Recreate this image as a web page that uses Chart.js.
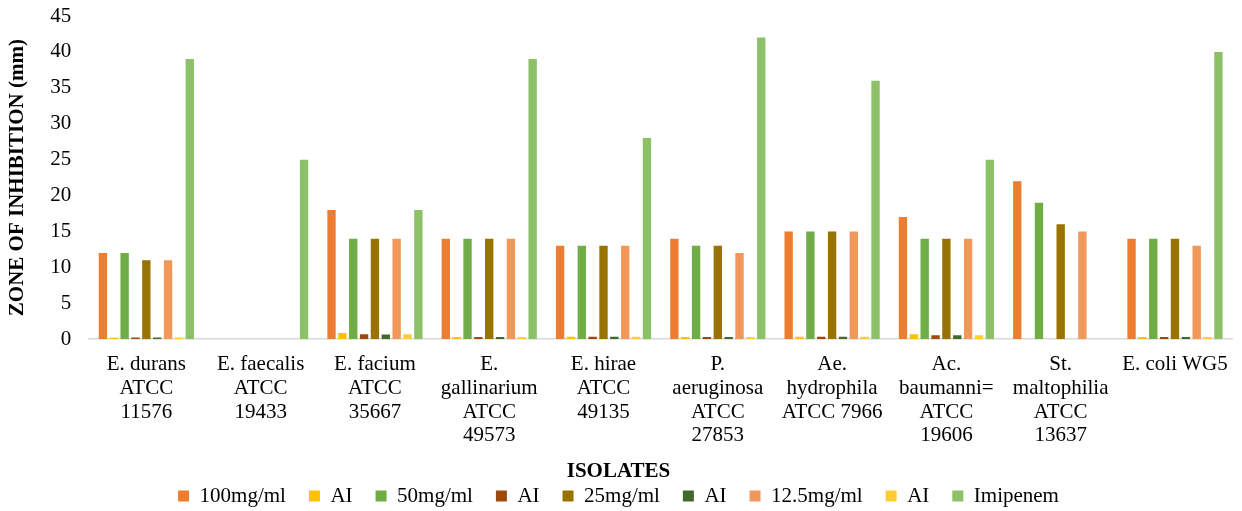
<!DOCTYPE html>
<html>
<head>
<meta charset="utf-8">
<script src="https://cdn.jsdelivr.net/npm/chart.js@4"></script>
<style>
  html, body { margin: 0; padding: 0; background: #fff; }
  #wrap { width: 1242px; height: 511px; }
</style>
</head>
<body>
<div id="wrap"><canvas id="chart" width="1242" height="511"></canvas></div>
<script>
// Categories
const isolates = [
  ["E. durans", "ATCC", "11576"],
  ["E. faecalis", "ATCC", "19433"],
  ["E. facium", "ATCC", "35667"],
  ["E.", "gallinarium", "ATCC", "49573"],
  ["E. hirae", "ATCC", "49135"],
  ["P.", "aeruginosa", "ATCC", "27853"],
  ["Ae.", "hydrophila", "ATCC 7966"],
  ["Ac.", "baumanni=", "ATCC", "19606"],
  ["St.", "maltophilia", "ATCC", "13637"],
  ["E. coli WG5"]
];

// Series values (zone of inhibition, mm)
const conc100 = [12, 0, 18, 14, 13, 14, 15, 17, 22, 14];
const ai100   = [0.2, 0, 0.85, 0.3, 0.35, 0.3, 0.35, 0.7, 0, 0.3];
const conc50  = [12, 0, 14, 14, 13, 13, 15, 14, 19, 14];
const ai50    = [0.25, 0, 0.7, 0.3, 0.35, 0.3, 0.35, 0.55, 0, 0.3];
const conc25  = [11, 0, 14, 14, 13, 13, 15, 14, 16, 14];
const ai25    = [0.25, 0, 0.65, 0.3, 0.35, 0.3, 0.35, 0.55, 0, 0.3];
const conc12  = [11, 0, 14, 14, 13, 12, 15, 14, 15, 13];
const ai12    = [0.25, 0, 0.7, 0.3, 0.35, 0.3, 0.35, 0.55, 0, 0.3];
const imipenem = [39, 25, 18, 39, 28, 42, 36, 25, 0, 40];

const yTicks = [0, 5, 10, 15, 20, 25, 30, 35, 40, 45];

const serif = "'Liberation Serif', 'Times New Roman', serif";

function series(label, data, color) {
  return {
    label: label,
    data: data,
    backgroundColor: color,
    borderWidth: 0,
    barPercentage: 0.77,
    categoryPercentage: 0.855
  };
}

const chart = new Chart(document.getElementById('chart'), {
  type: 'bar',
  data: {
    labels: isolates,
    datasets: [
      series('100mg/ml', conc100, '#ED7D31'),
      series('AI', ai100, '#FFC000'),
      series('50mg/ml', conc50, '#70AD47'),
      series('AI', ai50, '#9E480E'),
      series('25mg/ml', conc25, '#997300'),
      series('AI', ai25, '#43682B'),
      series('12.5mg/ml', conc12, '#F1975A'),
      series('AI', ai12, '#FFCD33'),
      series('Imipenem', imipenem, '#8CC168')
    ]
  },
  options: {
    responsive: false,
    animation: false,
    layout: { padding: { top: 0, right: 5, left: 0, bottom: -5.5 } },
    plugins: {
      legend: {
        position: 'bottom',
        // the axis name sits in the legend title so it lands just above the keys
        title: {
          display: true,
          text: 'ISOLATES',
          color: '#000',
          padding: { top: 0, bottom: -24 },
          font: { family: serif, size: 21, weight: 'bold' }
        },
        labels: {
          boxWidth: 11,
          boxHeight: 11,
          padding: 23,
          color: '#000',
          font: { family: serif, size: 21 }
        }
      },
      tooltip: { enabled: false }
    },
    scales: {
      x: {
        grid: { display: false, drawTicks: false },
        border: { display: true, color: '#d9d9d9', width: 1.5 },
        ticks: {
          color: '#000',
          maxRotation: 0,
          autoSkip: false,
          padding: 14,
          font: { family: serif, size: 21, lineHeight: 1.12 }
        }
      },
      y: {
        min: 0,
        max: 45,
        afterBuildTicks: (axis) => { axis.ticks = yTicks.map(v => ({ value: v })); },
        // tick padding is only wanted sideways, not above the top label
        afterFit: (axis) => { axis.paddingTop = 16; },
        grid: { display: false, drawTicks: false },
        border: { display: false },
        ticks: {
          color: '#000',
          padding: 18,
          font: { family: serif, size: 21 }
        },
        title: {
          display: true,
          text: 'ZONE OF INHIBITION (mm)',
          color: '#000',
          padding: { top: 5, bottom: 2 },
          font: { family: serif, size: 21, weight: 'bold' }
        }
      }
    }
  }
});
</script>
</body>
</html>
